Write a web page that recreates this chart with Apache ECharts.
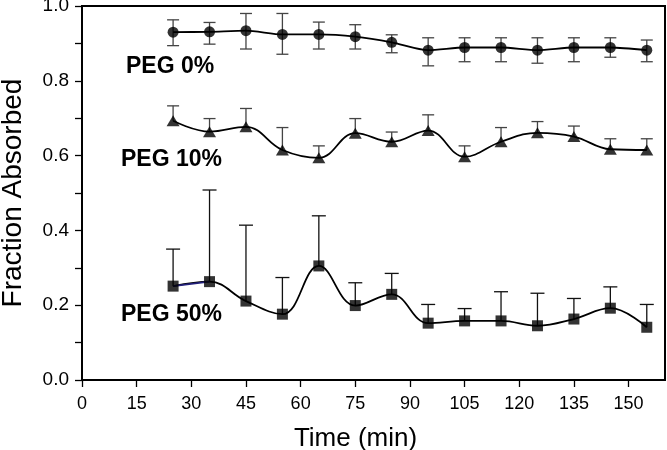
<!DOCTYPE html>
<html>
<head>
<meta charset="utf-8">
<script src="https://cdn.jsdelivr.net/npm/echarts@6/dist/echarts.min.js"></script>
<style>
  html, body { margin: 0; padding: 0; background: #fff; }
  #main { width: 667px; height: 450px; }
</style>
</head>
<body>
<div id="main"></div>
<script>
// time points (min)
var times = [25, 35, 45, 55, 65, 75, 85, 95, 105, 115, 125, 135, 145, 155];
var xTicks = [0, 15, 30, 45, 60, 75, 90, 105, 120, 135, 150];

// PEG 0%
var peg0 = [0.930, 0.931, 0.934, 0.924, 0.924, 0.918, 0.903, 0.882, 0.889, 0.889, 0.882, 0.889, 0.889, 0.882];
var peg0Hi = [0.963, 0.956, 0.980, 0.980, 0.957, 0.950, 0.923, 0.915, 0.915, 0.915, 0.915, 0.915, 0.915, 0.909];
var peg0Lo = [0.894, 0.898, 0.885, 0.871, 0.885, 0.885, 0.875, 0.840, 0.851, 0.851, 0.847, 0.851, 0.863, 0.851];

// PEG 10%
var peg10 = [0.693, 0.664, 0.677, 0.615, 0.594, 0.660, 0.637, 0.667, 0.597, 0.637, 0.661, 0.651, 0.617, 0.615];
var peg10Hi = [0.733, 0.699, 0.726, 0.675, 0.626, 0.699, 0.663, 0.709, 0.626, 0.675, 0.691, 0.679, 0.645, 0.645];

// PEG 50%
var peg50 = [0.251, 0.263, 0.211, 0.176, 0.305, 0.199, 0.229, 0.152, 0.158, 0.158, 0.145, 0.163, 0.192, 0.141];
var peg50Hi = [0.350, 0.508, 0.414, 0.274, 0.439, 0.260, 0.285, 0.202, 0.191, 0.236, 0.232, 0.218, 0.249, 0.202];

function pairs(ys) {
    return times.map(function (t, i) { return [t, ys[i]]; });
}
function bars(mid, hi, lo) {
    return times.map(function (t, i) { return [t, lo ? lo[i] : mid[i], hi[i]]; });
}
// error bar drawn through the axis scale; withLow adds the lower cap
function errorBar(capHalf, color, withLow) {
    return function (params, api) {
        var top = api.coord([api.value(0), api.value(2)]);
        var bot = api.coord([api.value(0), api.value(1)]);
        var style = { stroke: color, lineWidth: 1.3 };
        var kids = [
            { type: 'line', shape: { x1: top[0], y1: top[1], x2: bot[0], y2: bot[1] }, style: style },
            { type: 'line', shape: { x1: top[0] - capHalf, y1: top[1], x2: top[0] + capHalf, y2: top[1] }, style: style }
        ];
        if (withLow) {
            kids.push({ type: 'line', shape: { x1: bot[0] - capHalf, y1: bot[1], x2: bot[0] + capHalf, y2: bot[1] }, style: style });
        }
        return { type: 'group', children: kids };
    };
}

var font = 'Liberation Sans, Arial, sans-serif';

var option = {
    backgroundColor: '#fff',
    animation: false,
    grid: { left: 82, right: 2, top: 6, bottom: 70, show: true, borderColor: '#000', borderWidth: 2,
        outerBoundsMode: 'none', containLabel: false },
    xAxis: {
        type: 'value', min: 0, max: 160, interval: 15,
        name: 'Time (min)', nameLocation: 'middle', nameGap: 46,
        nameTextStyle: { fontFamily: font, fontSize: 26, color: '#000', padding: [0, 36, 0, 0] },
        axisLine: { lineStyle: { color: '#000', width: 2 } },
        axisTick: { show: true, length: 7, lineStyle: { color: '#000', width: 1.3 }, customValues: xTicks },
        axisLabel: { fontFamily: font, fontSize: 18, color: '#000', margin: 15, customValues: xTicks },
        splitLine: { show: false }
    },
    yAxis: {
        type: 'value', min: 0, max: 1, interval: 0.2,
        name: 'Fraction Absorbed', nameLocation: 'middle', nameGap: 55,
        nameTextStyle: { fontFamily: font, fontSize: 28, color: '#000' },
        axisLine: { lineStyle: { color: '#000', width: 2 } },
        axisTick: { show: true, length: 7, lineStyle: { color: '#000', width: 1.3 } },
        minorTick: { show: true, splitNumber: 2, length: 7, lineStyle: { color: '#000', width: 1.3 } },
        axisLabel: { fontFamily: font, fontSize: 19, color: '#000', margin: 13,
            formatter: function (v) { return v.toFixed(1); } },
        splitLine: { show: false }
    },
    graphic: [
        { type: 'text', left: 126, top: 55, style: { text: 'PEG 0%', font: 'bold 23px ' + font, fill: '#000' } },
        { type: 'text', left: 121, top: 148, style: { text: 'PEG 10%', font: 'bold 23px ' + font, fill: '#000' } },
        { type: 'text', left: 121, top: 303, style: { text: 'PEG 50%', font: 'bold 23px ' + font, fill: '#000' } }
    ],
    series: [
        { type: 'custom', z: 1, renderItem: errorBar(6, '#444', true), data: bars(peg0, peg0Hi, peg0Lo) },
        { type: 'custom', z: 1, renderItem: errorBar(6, '#444', false), data: bars(peg10, peg10Hi) },
        { type: 'custom', z: 1, renderItem: errorBar(7, '#111', false), data: bars(peg50, peg50Hi) },

        { type: 'line', z: 2, smooth: 0.25, symbol: 'none', data: pairs(peg0), lineStyle: { color: '#000', width: 1.8 } },
        { type: 'line', z: 2, smooth: 0.4, symbol: 'none', data: pairs(peg10), lineStyle: { color: '#000', width: 1.8 } },
        { type: 'line', z: 2, smooth: 0.4, symbol: 'none', data: pairs(peg50), lineStyle: { color: '#000', width: 1.8 } },
        // first PEG 50% segment is drawn in dark blue in the original
        { type: 'line', z: 3, smooth: 0.4, symbol: 'none', data: pairs(peg50).slice(0, 2), lineStyle: { color: '#22207a', width: 1.8 } },

        { type: 'scatter', z: 4, symbol: 'circle', symbolSize: 11, data: pairs(peg0), itemStyle: { color: '#000' } },
        { type: 'scatter', z: 4, symbol: 'triangle', symbolSize: [13, 11], data: pairs(peg10), itemStyle: { color: '#000' } },
        { type: 'scatter', z: 4, symbol: 'rect', symbolSize: 11, data: pairs(peg50), itemStyle: { color: '#000' } }
    ]
};

var chart = echarts.init(document.getElementById('main'));
chart.setOption(option);
</script>
</body>
</html>
